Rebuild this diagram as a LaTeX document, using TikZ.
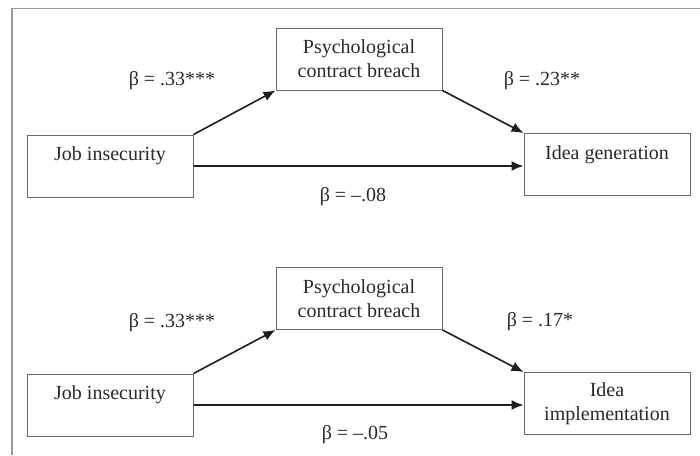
\documentclass[tikz,border=0pt]{standalone}
\usepackage{fontspec}
\setmainfont{Liberation Serif}
\usetikzlibrary{arrows.meta}
\definecolor{boxline}{HTML}{6A6A6A}
\definecolor{txt}{HTML}{2A2A2A}
\definecolor{arr}{HTML}{1E1E1E}
\definecolor{frame}{HTML}{9A9A9A}
\begin{document}
\begin{tikzpicture}[x=1pt,y=-1pt,
  varbox/.style={draw=boxline,line width=1pt,minimum width=166pt,minimum height=62pt,
    inner sep=0pt,align=center,text=txt,font=\fontsize{20}{24}\selectfont},
  coef/.style={text=txt,inner sep=1pt,font=\fontsize{20}{24}\selectfont},
  path/.style={draw=arr,line width=1.6pt,-{Latex[length=12pt,width=10pt]}}]
\useasboundingbox (0,0) rectangle (700,455);
\fill[white] (0,0) rectangle (700,455);
% frame
\draw[frame,line width=1.5pt] (12,455) -- (12,8.5) -- (700,8.5);
% top panel
\node[varbox] (psychA) at (359,59) {Psychological\\contract breach};
\node[varbox] (jobA) at (110,166) {Job insecurity\\\mbox{}};
\node[varbox] (ideaA) at (607,164.5) {Idea generation\\\mbox{}};
\draw[path] (jobA.north east) -- (psychA.south west);
\draw[path] (psychA.south east) -- (ideaA.north west);
\draw[path] (jobA.east) -- (jobA.east -| ideaA.west);
\node[coef] (bA1) at (172,81) {β = .33***};
\node[coef] (bA2) at (542,81) {β = .23**};
\node[coef] (bA3) at (353,197) {β = –.08};
% bottom panel
\node[varbox] (psychB) at (359,298.5) {Psychological\\contract breach};
\node[varbox] (jobB) at (110,405) {Job insecurity\\\mbox{}};
\node[varbox] (ideaB) at (607,403.5) {Idea\\implementation};
\draw[path] (jobB.north east) -- (psychB.south west);
\draw[path] (psychB.south east) -- (ideaB.north west);
\draw[path] (jobB.east) -- (jobB.east -| ideaB.west);
\node[coef] (bB1) at (172,323) {β = .33***};
\node[coef] (bB2) at (540,322) {β = .17*};
\node[coef] (bB3) at (355,435) {β = –.05};
\end{tikzpicture}
\end{document}
